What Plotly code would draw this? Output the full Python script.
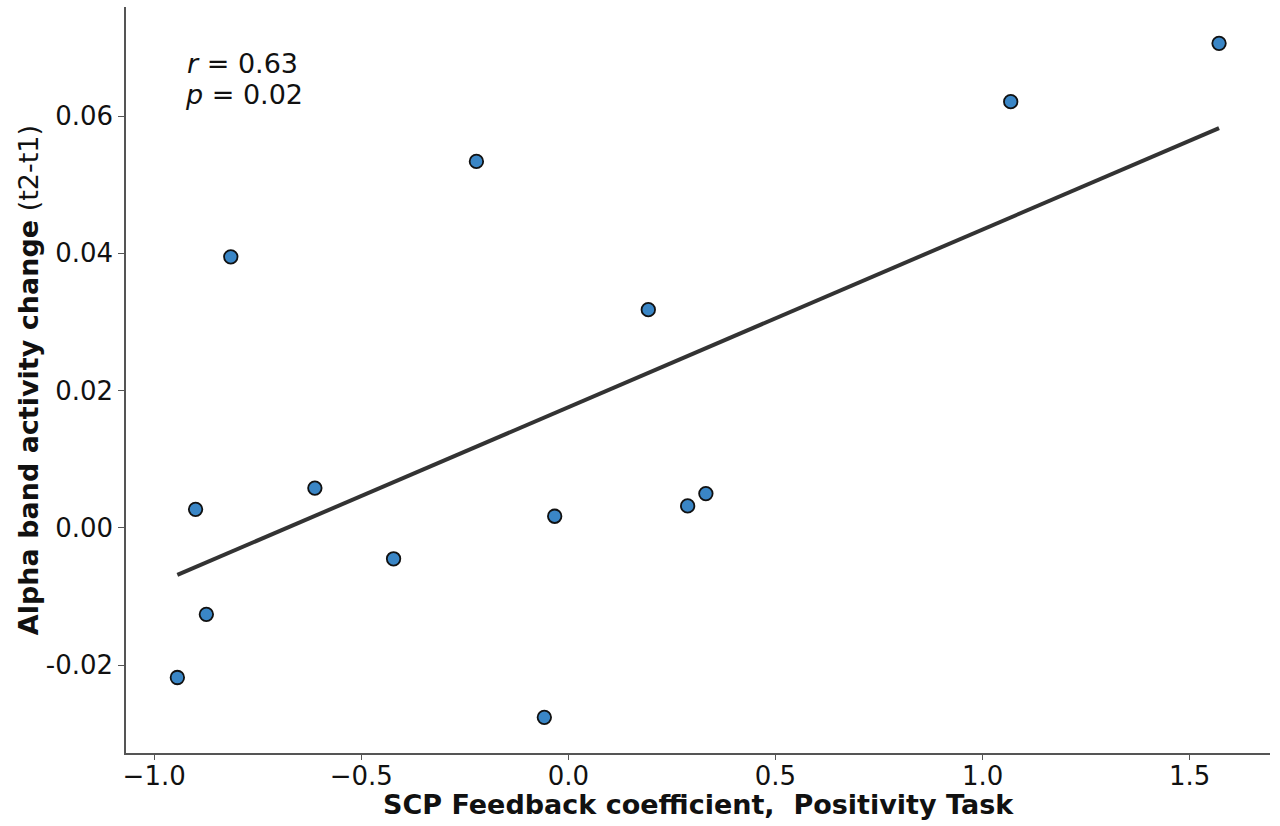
import numpy as np
import plotly.graph_objects as go

# Data
scp_coef = [-0.944, -0.900, -0.874, -0.815, -0.612, -0.422, -0.222,
            -0.058, -0.033, 0.193, 0.288, 0.332, 1.068, 1.571]
alpha_change = [-0.0218, 0.0027, -0.0126, 0.0395, 0.0058, -0.0045, 0.0534,
                -0.0276, 0.0017, 0.0318, 0.0032, 0.0050, 0.0621, 0.0706]
x_tick_vals = [-1.0, -0.5, 0.0, 0.5, 1.0, 1.5]
x_tick_text = ["\u22121.0", "\u22120.5", "0.0", "0.5", "1.0", "1.5"]
y_tick_vals = [-0.02, 0.0, 0.02, 0.04, 0.06]
y_tick_text = ["-0.02", "0.00", "0.02", "0.04", "0.06"]
r_text = "<i>r</i> = 0.63"
p_text = "<i>p</i> = 0.02"

x = np.array(scp_coef)
y = np.array(alpha_change)
slope, intercept = np.polyfit(x, y, 1)
fit_x = np.array([x.min(), x.max()])
fit_y = slope * fit_x + intercept

FONT = "DejaVu Sans"
AX = "#555555"
TXT = "#111111"

fig = go.Figure()
fig.add_trace(go.Scatter(x=fit_x, y=fit_y, mode="lines",
                         line=dict(color="#333333", width=4),
                         showlegend=False, hoverinfo="skip"))
fig.add_trace(go.Scatter(x=x, y=y, mode="markers",
                         marker=dict(size=13.5, color="#3a86c6",
                                     line=dict(color="#111111", width=1.8)),
                         showlegend=False))

fig.update_layout(
    width=1280, height=826,
    margin=dict(l=126, r=10, t=7, b=73, autoexpand=False),
    paper_bgcolor="white", plot_bgcolor="white",
    font=dict(family=FONT, size=26, color=TXT),
    xaxis=dict(range=[-1.068, 1.694], showgrid=False, zeroline=False,
               showline=True, linecolor=AX, linewidth=1.5,
               ticks="outside", ticklen=5, tickwidth=1.3, tickcolor=AX,
               tickvals=x_tick_vals, ticktext=x_tick_text,
               ticklabelstandoff=-6,
               tickfont=dict(family=FONT, size=26, color=TXT),
               fixedrange=True),
    yaxis=dict(range=[-0.0328, 0.0759], showgrid=False, zeroline=False,
               showline=True, linecolor=AX, linewidth=1.5,
               ticks="outside", ticklen=6, tickwidth=1.3, tickcolor=AX,
               tickvals=y_tick_vals, ticktext=y_tick_text,
               tickfont=dict(family=FONT, size=26, color=TXT),
               fixedrange=True),
    annotations=[
        dict(text=r_text, xref="x", yref="y", x=-0.926, y=0.0676,
             xanchor="left", yanchor="middle", showarrow=False,
             font=dict(family=FONT, size=27, color=TXT)),
        dict(text=p_text, xref="x", yref="y", x=-0.931, y=0.0632,
             xanchor="left", yanchor="middle", showarrow=False,
             font=dict(family=FONT, size=27, color=TXT)),
        dict(text="<b>SCP Feedback coefficient,  Positivity Task</b>",
             xref="paper", yref="paper", x=0.5, y=-0.069,
             xanchor="center", yanchor="middle", showarrow=False,
             font=dict(family=FONT, size=27, color=TXT)),
        dict(text="<b>Alpha band activity change</b> (t2-t1)",
             xref="paper", yref="paper", x=-0.0855, y=0.5, textangle=-90,
             xanchor="center", yanchor="middle", showarrow=False,
             font=dict(family=FONT, size=27, color=TXT)),
    ],
)

fig.write_html("out.html")
